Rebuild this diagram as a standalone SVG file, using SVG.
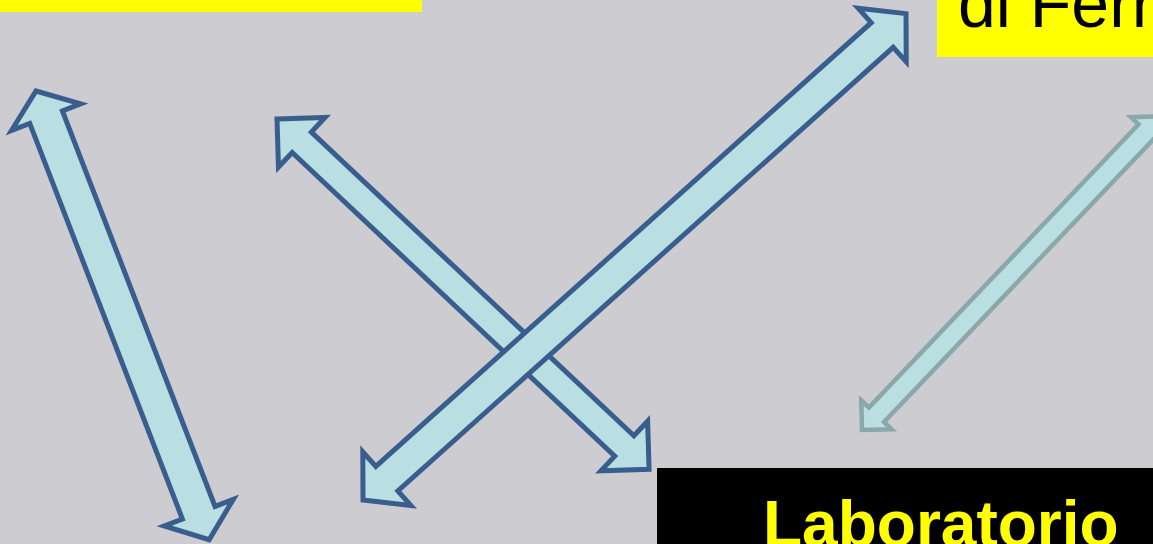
<svg xmlns="http://www.w3.org/2000/svg" width="1153" height="544" viewBox="0 0 1153 544">
<style>
.arr{fill:#B9DFE3;stroke:#395E8E;stroke-width:5;stroke-linejoin:miter}
.arr-faded{fill:#B9DFE3;stroke:#8AA8AA;stroke-width:4.5;stroke-linejoin:miter}
.ybox{fill:#FFFF00}
.txt-dark{font-family:"Liberation Sans",Arial,sans-serif;fill:#000000}
.txt-lab{font-family:"Liberation Sans",Arial,sans-serif;font-weight:bold;fill:#FFFF00}
</style>
<rect x="0" y="0" width="1153" height="544" fill="#CDCCD1"/>
<g id="node-top-left">
<rect class="ybox" x="0" y="0" width="422" height="12"/>
</g>
<g id="node-top-right">
<rect class="ybox" x="937" y="0" width="216" height="57"/>
<text class="txt-dark" x="958" y="27" font-size="68">di Ferr</text>
</g>
<g id="node-laboratorio">
<rect x="657" y="468" width="496" height="76" fill="#000000"/>
<text class="txt-lab" x="763" y="546" font-size="64">Laboratorio</text>
</g>
<g id="connectors">
<polygon class="arr" transform="translate(36,91) rotate(68.9)" points="0,0 28,-37 28,-17.5 452,-17.5 452,-37 481,0 452,37 452,17.5 28,17.5 28,37"/>
<polygon class="arr" transform="translate(277,119) rotate(43.27)" points="0,0 34,-34 34,-14 477,-14 477,-34 511,0 477,34 477,14 34,14 34,34"/>
<polygon class="arr" transform="translate(363,500) rotate(-41.85)" points="0,0 32,-36 32,-16.5 697,-16.5 697,-36 729,0 697,36 697,16.5 32,16.5 32,36"/>
<polygon class="arr-faded" transform="translate(862,430) rotate(-46.4)" points="0,0 21,-21 21,-10.5 412,-10.5 412,-21 433,0 412,21 412,10.5 21,10.5 21,21"/>
</g>
</svg>
